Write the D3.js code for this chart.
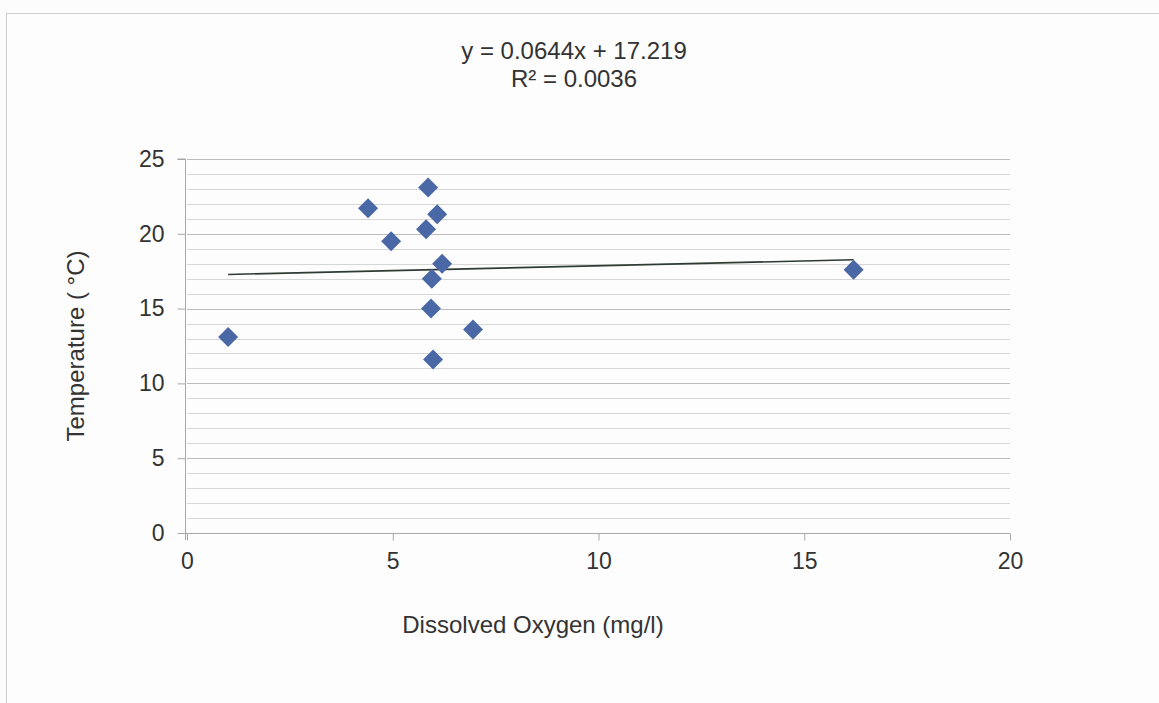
<!DOCTYPE html>
<html>
<head>
<meta charset="utf-8">
<script src="https://cdn.jsdelivr.net/npm/d3@7/dist/d3.min.js"></script>
<style>
  body { margin: 0; background: #fcfcfc; }
  svg { display: block; font-family: "Liberation Sans", Arial, sans-serif; }
</style>
</head>
<body>
<svg id="chart" width="1159" height="703"></svg>
<script>
'use strict';

// dissolved oxygen (mg/l) vs temperature (°C)
const oxygen      = [1.0, 4.4, 4.96, 5.86, 5.81, 6.08, 6.2, 5.95, 5.93, 6.95, 5.98, 16.2];
const temperature = [13.1, 21.7, 19.5, 23.1, 20.3, 21.3, 18.0, 17.0, 15.0, 13.6, 11.6, 17.6];
const slope = 0.0644;
const intercept = 17.219;
const rSquared = 0.0036;
const xTicks = [0, 5, 10, 15, 20];
const yTicks = [0, 5, 10, 15, 20, 25];

const margin = {left: 187, right: 149, top: 159, bottom: 170};
const width = 1159, height = 703;
const markerSize = 10;
const tickFont = '23px';
const labelFont = '24px';

const svg = d3.select('#chart');

// outer chart border
svg.append('rect')
  .attr('x', 6.5).attr('y', 13.5)
  .attr('width', width).attr('height', height)
  .attr('fill', '#fdfdfd')
  .attr('stroke', '#cfcfcf');

const x = d3.scaleLinear().domain([0, 20]).range([margin.left, width - margin.right]);
const y = d3.scaleLinear().domain([0, 25]).range([height - margin.bottom, margin.top]);

const g = svg.append('g');

// minor gridlines every 1 degree
g.selectAll('.minor')
  .data(d3.range(1, 25).filter(v => v % 5 !== 0))
  .enter().append('line')
  .attr('class', 'minor')
  .attr('x1', x(0)).attr('x2', x(20))
  .attr('y1', d => Math.round(y(d)) + 0.5).attr('y2', d => Math.round(y(d)) + 0.5)
  .attr('stroke', '#d6d6d6');

// major gridlines
g.selectAll('.major')
  .data(yTicks.slice(1))
  .enter().append('line')
  .attr('class', 'major')
  .attr('x1', x(0)).attr('x2', x(20))
  .attr('y1', d => Math.round(y(d)) + 0.5).attr('y2', d => Math.round(y(d)) + 0.5)
  .attr('stroke', '#bdbdbd');

// axes
const yAxis = d3.axisLeft(y).tickValues(yTicks).tickSize(8).tickPadding(13);
const xAxis = d3.axisBottom(x).tickValues(xTicks).tickSize(7).tickPadding(12);

const yG = svg.append('g')
  .attr('transform', `translate(${Math.round(x(0)) - 1.5},0)`)
  .call(yAxis);
const xG = svg.append('g')
  .attr('transform', `translate(0,${Math.round(y(0)) + 0.5})`)
  .call(xAxis);

[yG, xG].forEach(a => {
  a.select('.domain').attr('stroke', '#a8a8a8');
  a.selectAll('.tick line').attr('stroke', '#a8a8a8');
  a.selectAll('.tick text')
    .attr('fill', '#333')
    .style('font-size', tickFont)
    .style('font-family', '"Liberation Sans", Arial, sans-serif');
});
yG.select('.domain').attr('d', `M-8,${y(25)}H0V${y(0) + 7}`);
xG.select('.domain').attr('d', `M${x(0) - 8},0H${x(20)}`);

// trendline across data range
const xExt = d3.extent(oxygen);
svg.append('line')
  .attr('x1', x(xExt[0])).attr('y1', y(slope * xExt[0] + intercept))
  .attr('x2', x(xExt[1])).attr('y2', y(slope * xExt[1] + intercept))
  .attr('stroke', '#2f3a33')
  .attr('stroke-width', 1.6);

// diamond markers
svg.selectAll('.pt')
  .data(oxygen.map((o, i) => ({o, t: temperature[i]})))
  .enter().append('path')
  .attr('class', 'pt')
  .attr('transform', d => `translate(${x(d.o)},${y(d.t)})`)
  .attr('d', `M0,${-markerSize}L${markerSize},0L0,${markerSize}L${-markerSize},0Z`)
  .attr('fill', '#4a68a6');

// equation label
const eq = svg.append('text')
  .attr('text-anchor', 'middle')
  .attr('fill', '#333')
  .style('font-size', labelFont);
eq.append('tspan').attr('x', 574).attr('y', 59)
  .text(`y = ${slope}x + ${intercept}`);
eq.append('tspan').attr('x', 574).attr('y', 87)
  .text(`R² = ${rSquared}`);

// axis titles
svg.append('text')
  .attr('x', 533).attr('y', 633)
  .attr('text-anchor', 'middle')
  .attr('fill', '#333')
  .style('font-size', labelFont)
  .text('Dissolved Oxygen (mg/l)');

svg.append('text')
  .attr('transform', `translate(84,${(y(0) + y(25)) / 2}) rotate(-90)`)
  .attr('text-anchor', 'middle')
  .attr('fill', '#333')
  .style('font-size', labelFont)
  .text('Temperature ( °C)');
</script>
</body>
</html>
